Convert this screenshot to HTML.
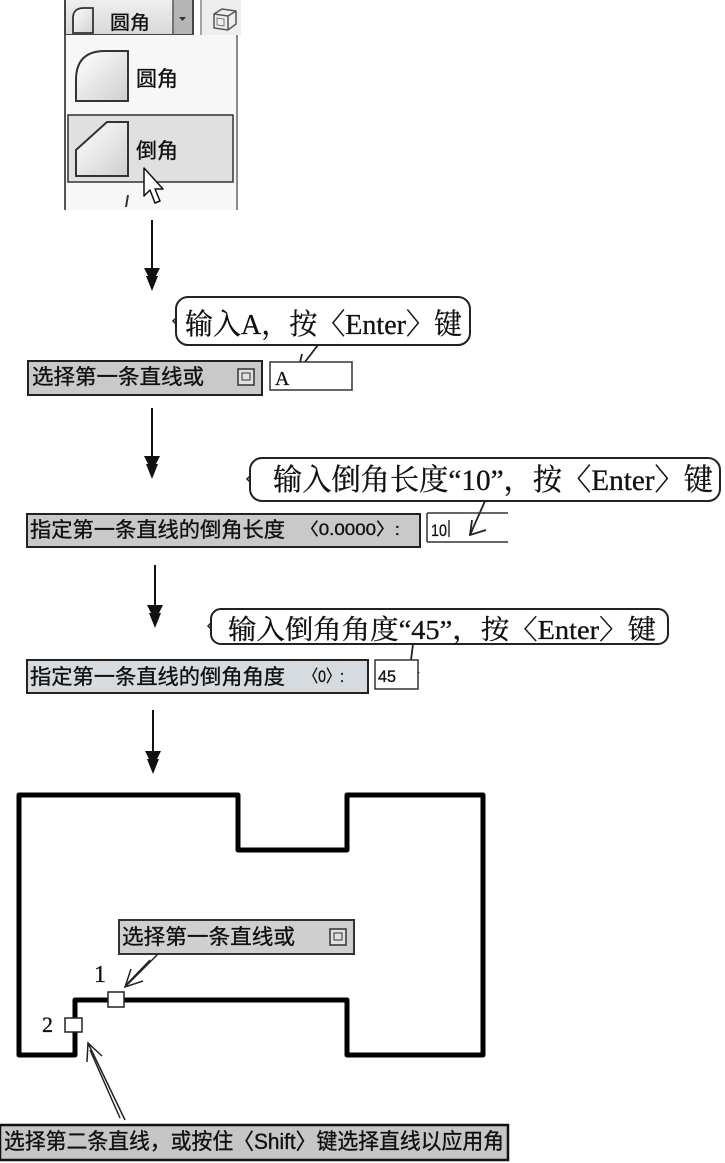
<!DOCTYPE html>
<html>
<head>
<meta charset="utf-8">
<style>
html,body{margin:0;padding:0;background:#fff;}
svg{display:block;}
.cmd{font-family:"Liberation Sans","Noto Sans CJK SC",sans-serif;fill:#111;stroke:#111;stroke-width:0.35;}
.cal{font-family:"Liberation Serif","Noto Serif CJK SC",serif;fill:#111;stroke:#111;stroke-width:0.3;}
</style>
</head>
<body>
<svg width="725" height="1163" viewBox="0 0 725 1163" xmlns="http://www.w3.org/2000/svg">
<defs>
<linearGradient id="ig" x1="0" y1="0" x2="1" y2="1">
<stop offset="0" stop-color="#ffffff"/><stop offset="1" stop-color="#cfcfcf"/>
</linearGradient>
<linearGradient id="tb" x1="0" y1="0" x2="0" y2="1">
<stop offset="0" stop-color="#f0f0f0"/><stop offset="1" stop-color="#d8d8d8"/>
</linearGradient>
</defs>
<rect width="725" height="1163" fill="#fff"/>

<!-- Toolbar combo -->
<rect x="65" y="-2" width="128" height="37" fill="url(#tb)" stroke="#444" stroke-width="2"/>
<rect x="173" y="0" width="19" height="34" fill="#b5b5b5"/>
<line x1="173" y1="0" x2="173" y2="35" stroke="#555" stroke-width="1.5"/>
<polygon points="179,17 186,17 182.5,21" fill="#333"/>
<path d="M73,33 V18 Q73,8 84,8 H93 V33 Z" fill="url(#ig)" stroke="#333" stroke-width="1.8"/>
<text class="cmd" x="110" y="29" font-size="19" textLength="40" lengthAdjust="spacingAndGlyphs">圆角</text>
<rect x="201" y="0" width="40" height="35" fill="#eeeeee"/>
<line x1="201" y1="0" x2="201" y2="35" stroke="#888" stroke-width="1.5"/>
<path d="M214,14 L222,9 L236,11 L236,24 L228,30 L214,28 Z M214,14 L228,16 L236,11 M228,16 L228,30" fill="none" stroke="#555" stroke-width="1.5"/>
<path d="M217,18 L224,19 L224,26 L217,25 Z" fill="none" stroke="#777" stroke-width="1"/>

<!-- Dropdown panel -->
<rect x="65" y="35" width="172" height="175" fill="#f7f7f7"/>
<line x1="65" y1="35" x2="65" y2="210" stroke="#555" stroke-width="2"/>
<line x1="237" y1="35" x2="237" y2="210" stroke="#666" stroke-width="1.5"/>
<path d="M76,101 V80 Q76,51 105,51 H128 V101 Z" fill="url(#ig)" stroke="#333" stroke-width="2"/>
<text class="cmd" x="136" y="86" font-size="21" textLength="42" lengthAdjust="spacingAndGlyphs">圆角</text>
<rect x="68" y="115" width="165" height="67" fill="#e0e0e0" stroke="#333" stroke-width="1.5"/>
<path d="M76,176 V150 L107,122 H128 V176 Z" fill="url(#ig)" stroke="#333" stroke-width="2"/>
<text class="cmd" x="136" y="158" font-size="21" textLength="42" lengthAdjust="spacingAndGlyphs">倒角</text>
<polygon points="144,168 144,196 150,190 155,203 160,201 155,189 163,189" fill="#fff" stroke="#111" stroke-width="1.5" stroke-linejoin="round"/>
<line x1="128" y1="195" x2="126" y2="207" stroke="#333" stroke-width="2"/>

<!-- Flow arrows -->
<g stroke="#111" stroke-width="2">
<line x1="152" y1="220" x2="152" y2="272"/>
<line x1="152" y1="408" x2="152" y2="460"/>
<line x1="155" y1="565" x2="155" y2="610"/>
<line x1="153" y1="710" x2="153" y2="755"/>
</g>
<g fill="#111">
<polygon points="144,268 160,268 156,276 158,276 152,291 146,276 148,276"/>
<polygon points="144,456 160,456 156,464 158,464 152,479 146,464 148,464"/>
<polygon points="147,605 163,605 159,613 161,613 155,628 149,613 151,613"/>
<polygon points="145,751 161,751 157,759 159,759 153,774 147,759 149,759"/>
</g>

<!-- Callout 1 -->
<rect x="176" y="297" width="294" height="48" rx="12" fill="#fff" stroke="#222" stroke-width="2"/>
<path d="M176,318 l-3,3 l3,3" fill="none" stroke="#222" stroke-width="1.5"/>
<text class="cal" x="185" y="334" font-size="29" textLength="277" lengthAdjust="spacingAndGlyphs">输入A，按〈Enter〉键</text>
<g stroke="#222" stroke-width="1.8" fill="none">
<line x1="318" y1="345" x2="298" y2="371"/>
<polyline points="316,363 298,371 302,354"/>
</g>

<!-- Box 1 -->
<rect x="28" y="361" width="234" height="34" fill="#c9c9c9" stroke="#222" stroke-width="2"/>
<text class="cmd" x="32" y="384" font-size="21" textLength="172" lengthAdjust="spacingAndGlyphs">选择第一条直线或</text>
<rect x="238" y="369" width="16" height="16" fill="#e0e0e0" stroke="#333" stroke-width="1.5"/>
<rect x="242" y="373" width="8" height="7" fill="none" stroke="#333" stroke-width="1"/>
<rect x="270" y="362" width="82" height="28" fill="#fff" stroke="#333" stroke-width="1.5"/>
<text class="cal" x="275" y="385" font-size="20">A</text>

<!-- Callout 2 -->
<rect x="250" y="458" width="470" height="43" rx="12" fill="#fff" stroke="#222" stroke-width="2"/>
<path d="M250,476 l-3,3 l3,3" fill="none" stroke="#222" stroke-width="1.5"/>
<text class="cal" x="273" y="490" font-size="30" textLength="440" lengthAdjust="spacingAndGlyphs">输入倒角长度“10”，按〈Enter〉键</text>
<g stroke="#222" stroke-width="1.8" fill="none">
<line x1="485" y1="501" x2="470" y2="535"/>
<polyline points="486,530 470,535 472,520"/>
</g>

<!-- Box 2 -->
<rect x="27" y="514" width="393" height="33" fill="#c9c9c9" stroke="#222" stroke-width="2"/>
<text class="cmd" x="30" y="537" font-size="21" textLength="255" lengthAdjust="spacingAndGlyphs">指定第一条直线的倒角长度</text>
<text class="cmd" x="300" y="535" font-size="17" textLength="100" lengthAdjust="spacingAndGlyphs">〈0.0000〉:</text>
<g stroke="#333" stroke-width="1.5">
<line x1="427" y1="513" x2="427" y2="542"/>
<line x1="427" y1="513" x2="508" y2="513"/>
<line x1="427" y1="542" x2="508" y2="542"/>
<line x1="449" y1="520" x2="449" y2="537"/>
</g>
<text class="cmd" x="431" y="536" font-size="17" textLength="16" lengthAdjust="spacingAndGlyphs">10</text>

<!-- Callout 3 -->
<rect x="211" y="609" width="457" height="35" rx="10" fill="#fff" stroke="#222" stroke-width="2"/>
<path d="M211,623 l-3,3 l3,3" fill="none" stroke="#222" stroke-width="1.5"/>
<text class="cal" x="228" y="639" font-size="27" textLength="428" lengthAdjust="spacingAndGlyphs">输入倒角角度“45”，按〈Enter〉键</text>
<g stroke="#222" stroke-width="1.8" fill="none">
<line x1="413" y1="644" x2="408" y2="684"/>
<polyline points="402,670 407,685 419,672"/>
</g>

<!-- Box 3 -->
<rect x="27" y="660" width="341" height="33" fill="#d5dbde" stroke="#222" stroke-width="2"/>
<text class="cmd" x="30" y="684" font-size="21" textLength="255" lengthAdjust="spacingAndGlyphs">指定第一条直线的倒角角度</text>
<text class="cmd" x="304" y="682" font-size="17" textLength="40" lengthAdjust="spacingAndGlyphs">〈0〉:</text>
<rect x="375" y="660" width="43" height="29" fill="#fff" stroke="#333" stroke-width="1.5"/>
<text class="cmd" x="378" y="682" font-size="17" textLength="18" lengthAdjust="spacingAndGlyphs">45</text>

<!-- Shape -->
<path d="M19,795 H238 V850 H347 V795 H483 V1055 H347 V1000 H75 V1055 H19 Z" fill="none" stroke="#000" stroke-width="5" stroke-linejoin="round"/>

<!-- Tooltip in shape -->
<rect x="119" y="920" width="235" height="34" fill="#cfcfcf" stroke="#333" stroke-width="2"/>
<text class="cmd" x="122" y="944" font-size="21" textLength="173" lengthAdjust="spacingAndGlyphs">选择第一条直线或</text>
<rect x="330" y="929" width="16" height="16" fill="#e0e0e0" stroke="#333" stroke-width="1.5"/>
<rect x="334" y="933" width="8" height="7" fill="none" stroke="#333" stroke-width="1"/>

<g stroke="#222" stroke-width="1.5" fill="none">
<line x1="157" y1="955" x2="125" y2="987"/>
<line x1="150" y1="960" x2="127" y2="984"/>
<polyline points="131,969 125,987 143,981"/>
<line x1="125" y1="1120" x2="88" y2="1043"/>
<line x1="120" y1="1118" x2="90" y2="1050"/>
<polyline points="87,1062 88,1043 102,1056"/>
</g>
<rect x="108" y="992" width="16" height="15" fill="#fff" stroke="#222" stroke-width="1.5"/>
<rect x="65" y="1018" width="17" height="14" fill="#fff" stroke="#222" stroke-width="1.5"/>
<text class="cal" x="94" y="982" font-size="24">1</text>
<text class="cal" x="42" y="1032" font-size="22">2</text>

<!-- Bottom bar -->
<rect x="0" y="1125" width="508" height="35" fill="#c6c6c6" stroke="#111" stroke-width="2.5"/>
<text class="cmd" x="4" y="1149" font-size="22" textLength="500" lengthAdjust="spacingAndGlyphs">选择第二条直线，或按住〈Shift〉键选择直线以应用角</text>
</svg>
</body>
</html>
